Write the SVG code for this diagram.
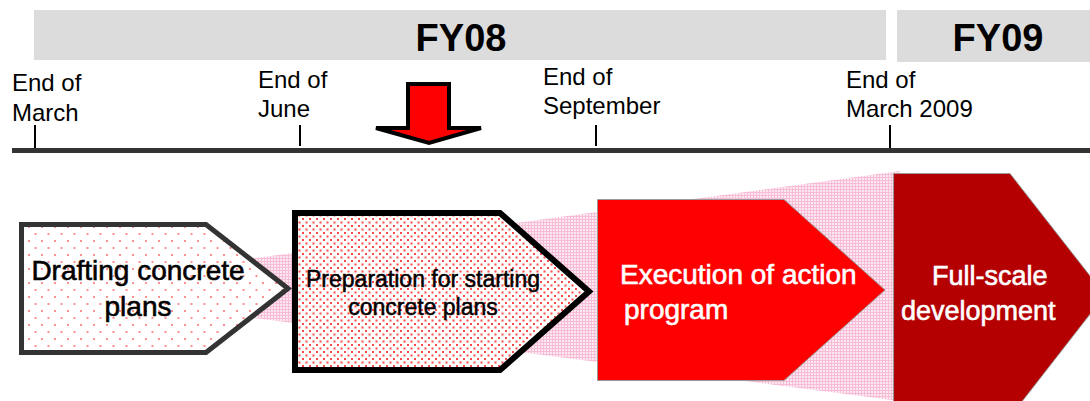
<svg xmlns="http://www.w3.org/2000/svg" width="1090" height="401" viewBox="0 0 1090 401">
<style>
  .lbl{font-family:"Liberation Sans",Arial,sans-serif;font-size:24px;fill:#000}
  .fy{font-family:"Liberation Sans",Arial,sans-serif;font-size:38px;font-weight:bold;fill:#000;text-anchor:middle}
  .tick{stroke:#000;stroke-width:2}
  .t1{font-family:"Liberation Sans",Arial,sans-serif;font-size:28px;fill:#000;stroke:#000;stroke-width:0.6;text-anchor:middle}
  .t2{font-family:"Liberation Sans",Arial,sans-serif;font-size:23px;fill:#000;stroke:#000;stroke-width:0.5;text-anchor:middle}
  .tw{font-family:"Liberation Sans",Arial,sans-serif;font-size:28px;fill:#fff;stroke:#fff;stroke-width:0.6}
</style>
<defs>
  <pattern id="dotsSparse" width="13" height="14" patternUnits="userSpaceOnUse">
    <rect width="13" height="14" fill="#fff"/>
    <rect x="2" y="2" width="2" height="2" fill="#ff9090"/>
    <rect x="8.5" y="9" width="2" height="2" fill="#ff9090"/>
  </pattern>
  <pattern id="dotsDense" width="7" height="7" patternUnits="userSpaceOnUse">
    <rect width="7" height="7" fill="#fff"/>
    <rect x="1" y="1" width="2" height="2" fill="#ff4848"/>
    <rect x="4.5" y="4.5" width="2" height="2" fill="#ff4848"/>
  </pattern>
  <pattern id="pinkGrid" width="3" height="3" patternUnits="userSpaceOnUse">
    <rect width="3" height="3" fill="#fde8f1"/>
    <rect width="3" height="1" fill="#f7bcd6"/>
    <rect width="1" height="3" fill="#f7bcd6"/>
  </pattern>
</defs>
<rect width="1090" height="401" fill="#fff"/>

<g id="fiscal-years">
  <rect x="34" y="10" width="852" height="50" fill="#dcdcdc"/>
  <text class="fy" x="461" y="51">FY08</text>
  <rect x="897" y="10" width="193" height="52" fill="#dcdcdc"/>
  <text class="fy" x="998" y="51">FY09</text>
</g>

<g id="timeline">
  <line x1="12" y1="150.5" x2="1090" y2="150.5" stroke="#333" stroke-width="5"/>
  <line class="tick" x1="35" y1="125" x2="35" y2="148"/>
  <line class="tick" x1="300" y1="125" x2="300" y2="146"/>
  <line class="tick" x1="596" y1="125" x2="596" y2="146"/>
  <line class="tick" x1="890" y1="125" x2="890" y2="148"/>
  <text class="lbl" x="12" y="91">End of</text>
  <text class="lbl" x="12" y="121">March</text>
  <text class="lbl" x="258" y="88">End of</text>
  <text class="lbl" x="258" y="117">June</text>
  <text class="lbl" x="543" y="85">End of</text>
  <text class="lbl" x="543" y="114">September</text>
  <text class="lbl" x="846" y="88">End of</text>
  <text class="lbl" x="846" y="117">March 2009</text>
</g>

<g id="now-arrow">
  <polygon points="408,84 449,84 449,128 481,128 429,143 376,128 408,128" fill="#ff0000" stroke="#000" stroke-width="4" stroke-linejoin="miter"/>
</g>

<g id="connectors">
  <polygon points="200,265.6 900,171 900,401 200,311" fill="url(#pinkGrid)"/>
</g>

<g id="node-drafting">
  <polygon points="21.5,224.5 206,224.5 288,288.5 206,352.5 21.5,352.5" fill="url(#dotsSparse)" stroke="#333" stroke-width="5"/>
  <text class="t1" x="138" y="280">Drafting concrete</text>
  <text class="t1" x="138" y="316">plans</text>
</g>

<g id="node-preparation">
  <polygon points="295,213 500,213 589,291.5 500,370 295,370" fill="url(#dotsDense)" stroke="#000" stroke-width="6"/>
  <text class="t2" x="423" y="287">Preparation for starting</text>
  <text class="t2" x="423" y="315">concrete plans</text>
</g>

<g id="node-execution">
  <polygon points="597.5,199.5 784,199.5 885,290 784,380.5 597.5,380.5" fill="#ff0000" stroke="#999" stroke-width="1"/>
  <text class="tw" x="620" y="284">Execution of action</text>
  <text class="tw" x="624" y="319">program</text>
</g>

<g id="node-fullscale">
  <polygon points="893.5,173.5 1010,173.5 1105,295 1010,417 893.5,417" fill="#b40000" stroke="#999" stroke-width="1"/>
  <text class="tw" x="932" y="285" style="font-size:27px">Full-scale</text>
  <text class="tw" x="901" y="320" style="font-size:27px">development</text>
</g>
</svg>
